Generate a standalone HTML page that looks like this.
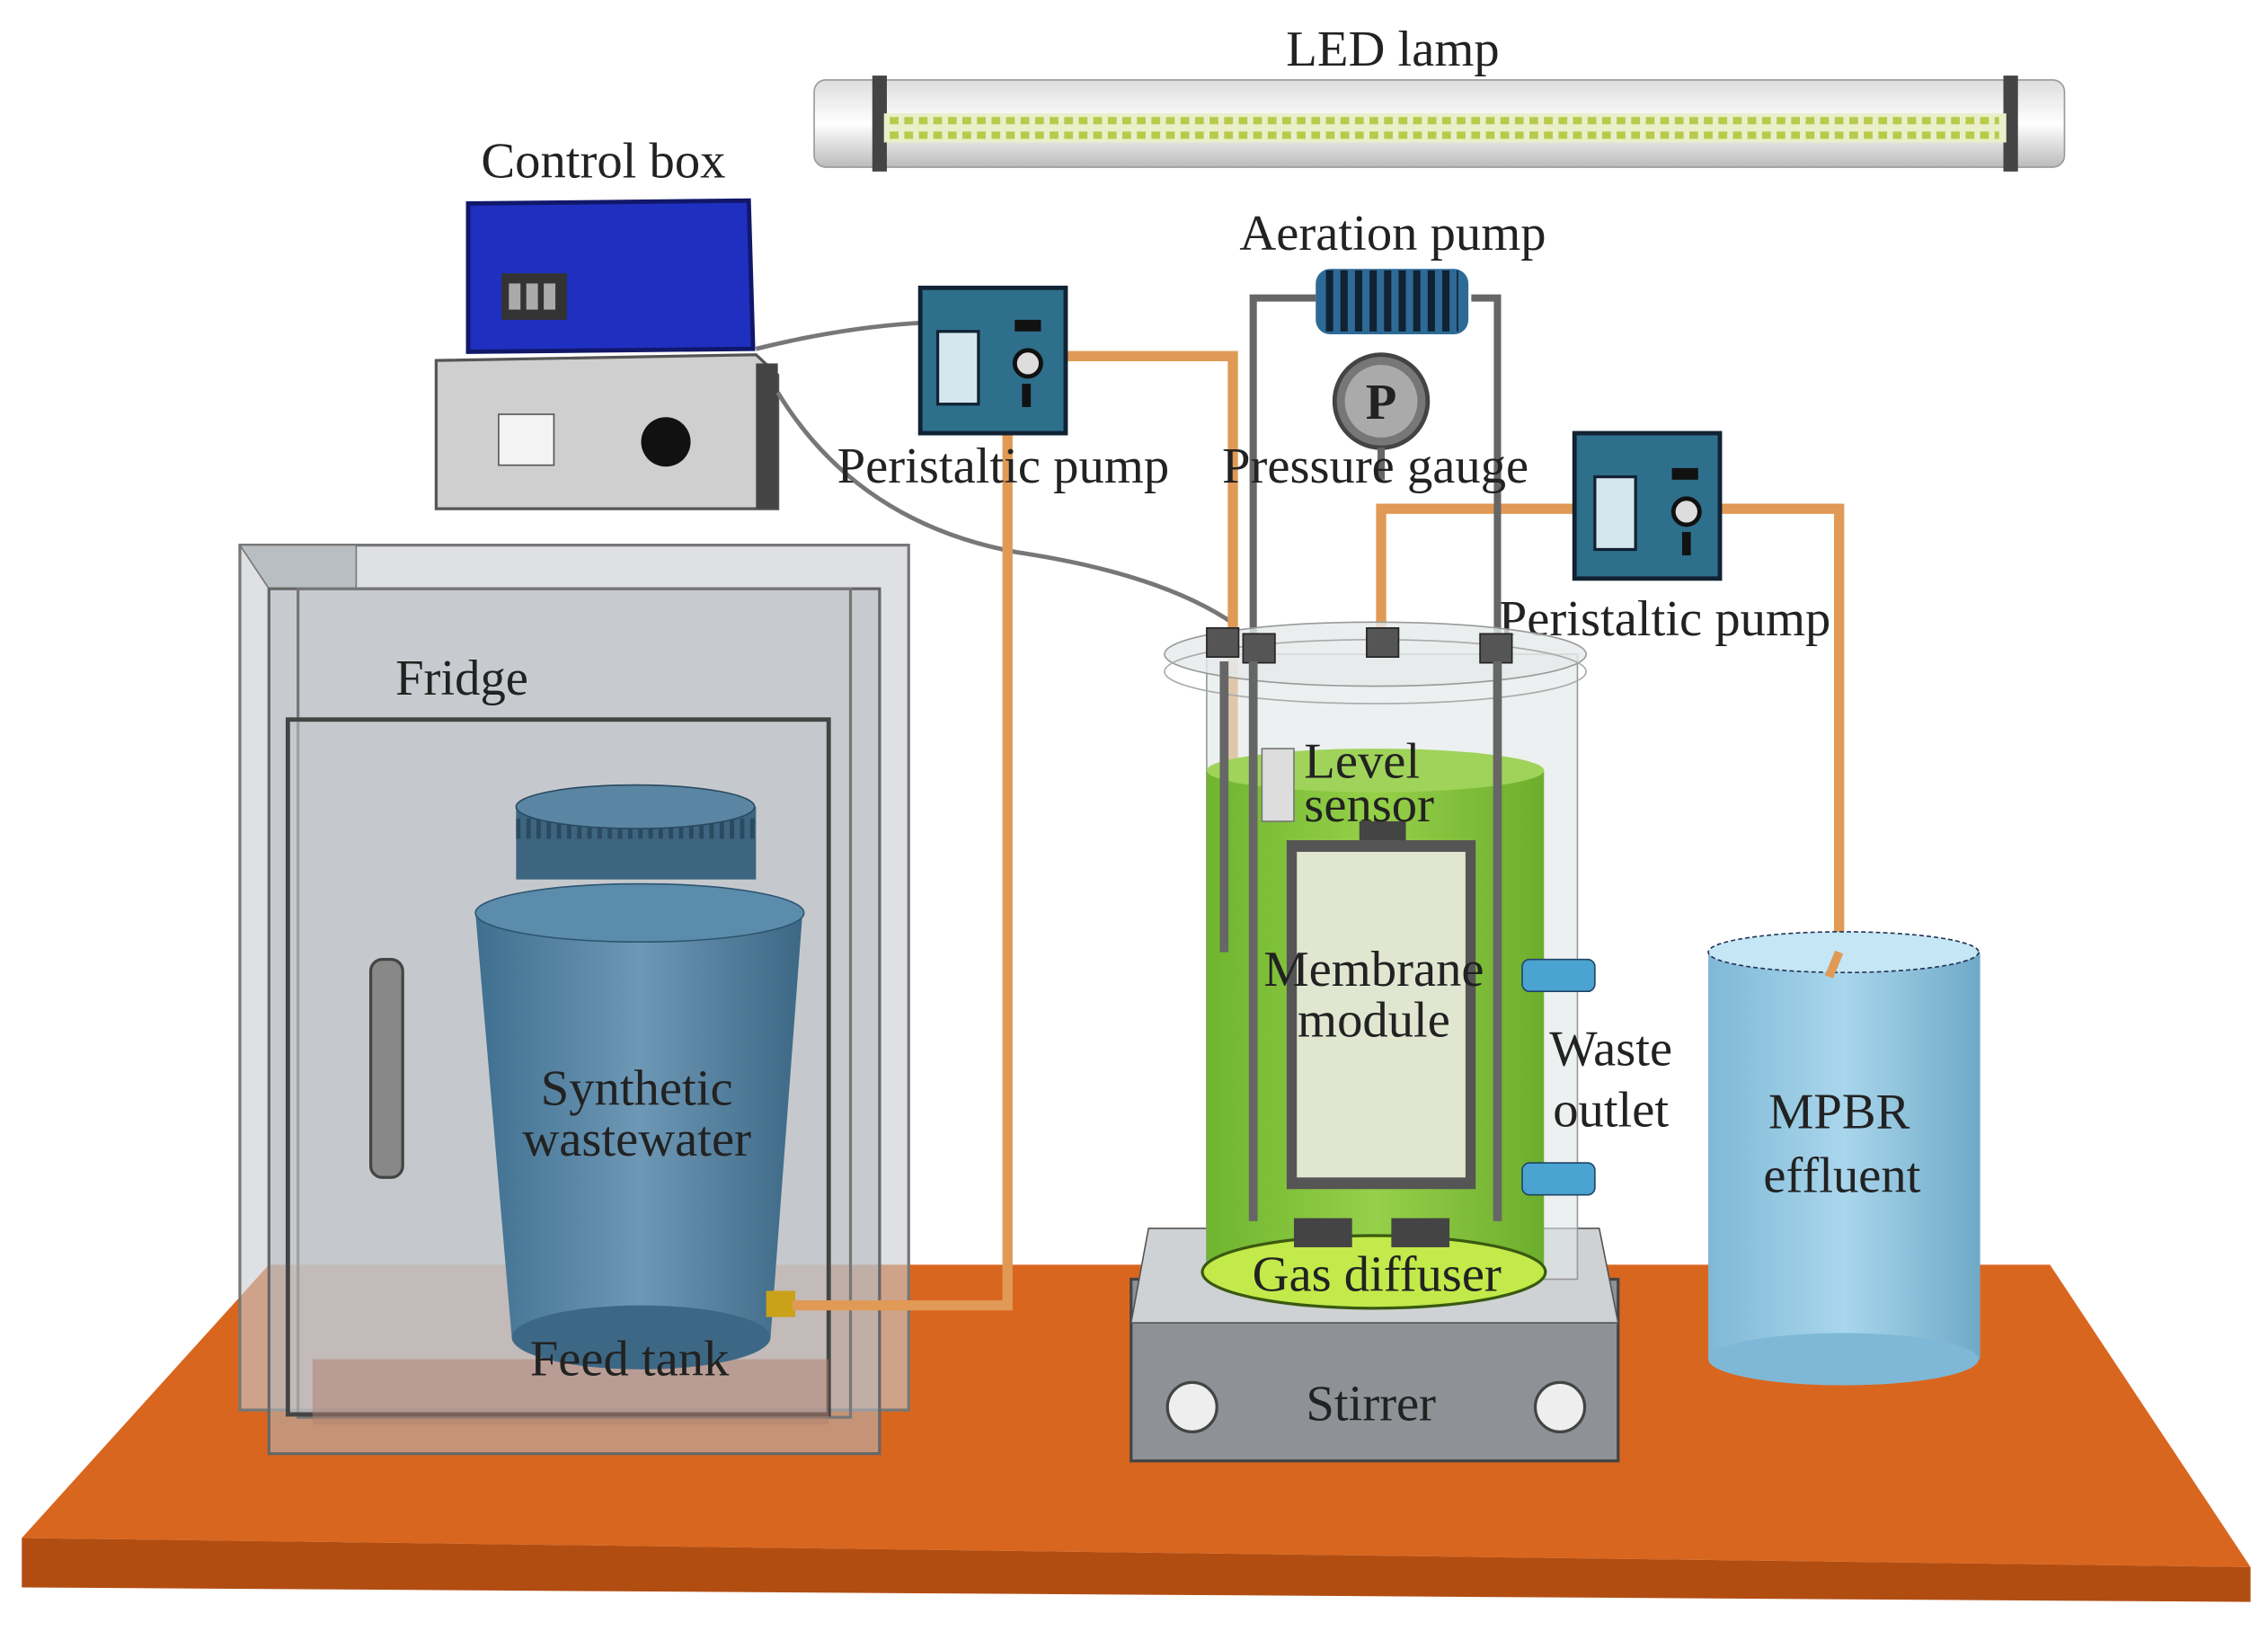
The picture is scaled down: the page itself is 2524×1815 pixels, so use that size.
<!DOCTYPE html>
<html><head><meta charset="utf-8"><style>
html,body{margin:0;padding:0;background:#fff;}
svg{display:block;}
text{font-family:"Liberation Serif",serif;font-size:35px;fill:#222;}
</style></head><body>
<svg width="2524" height="1815" viewBox="0 0 1560 1122" preserveAspectRatio="none" xmlns="http://www.w3.org/2000/svg">
<defs>
<linearGradient id="led" x1="0" y1="0" x2="0" y2="1"><stop offset="0" stop-color="#ddd"/><stop offset=".5" stop-color="#fff"/><stop offset="1" stop-color="#bbb"/></linearGradient>
<linearGradient id="tank" x1="0" y1="0" x2="1" y2="0"><stop offset="0" stop-color="#3f6f8f"/><stop offset=".5" stop-color="#6d98b6"/><stop offset="1" stop-color="#3d6885"/></linearGradient>
<linearGradient id="eff" x1="0" y1="0" x2="1" y2="0"><stop offset="0" stop-color="#7fb8d6"/><stop offset=".5" stop-color="#a9d6ec"/><stop offset="1" stop-color="#6fa9c8"/></linearGradient>
<linearGradient id="grn" x1="0" y1="0" x2="1" y2="0"><stop offset="0" stop-color="#6fb52e"/><stop offset=".5" stop-color="#96d04a"/><stop offset="1" stop-color="#6cae2c"/></linearGradient>
</defs>
<rect width="1560" height="1122" fill="#fff"/>
<polygon points="185,870 1410,870 1548,1078 15,1058" fill="#d9661e"/>
<polygon points="15,1058 1548,1078 1548,1102 15,1092" fill="#b24d12"/>
<rect x="560" y="55" width="860" height="60" rx="8" fill="url(#led)" stroke="#999"/>
<rect x="600" y="52" width="10" height="66" fill="#444"/>
<rect x="1378" y="52" width="10" height="66" fill="#444"/>
<rect x="608" y="78" width="772" height="20" fill="#e9efc8"/>
<line x1="612" y1="83" x2="1375" y2="83" stroke="#b9c94a" stroke-width="5" stroke-dasharray="6,4"/>
<line x1="612" y1="93" x2="1375" y2="93" stroke="#b9c94a" stroke-width="5" stroke-dasharray="6,4"/>
<text x="958" y="45" text-anchor="middle">LED lamp</text>
<text x="415" y="122" text-anchor="middle">Control box</text>
<polygon points="322,140 515,138 518,240 322,242" fill="#1f2fc0" stroke="#11186a" stroke-width="3"/>
<rect x="345" y="188" width="45" height="32" fill="#333"/>
<rect x="350" y="195" width="8" height="18" fill="#aaa"/><rect x="362" y="195" width="8" height="18" fill="#aaa"/><rect x="374" y="195" width="8" height="18" fill="#aaa"/>
<polygon points="300,248 520,244 535,258 535,350 300,350" fill="#cfcfcf" stroke="#555" stroke-width="2"/>
<rect x="520" y="250" width="15" height="100" fill="#444"/>
<rect x="343" y="285" width="38" height="35" fill="#f3f3f3" stroke="#555"/>
<circle cx="458" cy="304" r="17" fill="#111"/>
<path d="M520,240 Q580,225 635,222" stroke="#777" stroke-width="3" fill="none"/>
<path d="M535,270 Q590,360 700,380 Q800,395 850,430" stroke="#777" stroke-width="3" fill="none"/>
<rect x="165" y="375" width="460" height="595" fill="#c8ccd0" fill-opacity=".6" stroke="#777" stroke-width="2"/>
<polygon points="165,375 245,375 245,405 185,405" fill="#b9bec2" stroke="#777"/>
<rect x="185" y="405" width="420" height="595" fill="#b5babf" fill-opacity=".55" stroke="#666" stroke-width="2"/>
<rect x="205" y="405" width="380" height="570" fill="none" stroke="#777" stroke-width="2"/>
<rect x="198" y="495" width="372" height="478" fill="#c3c7cb" fill-opacity=".5" stroke="#444" stroke-width="3"/>
<rect x="215" y="935" width="355" height="45" fill="#b08070" fill-opacity=".5"/>
<rect x="255" y="660" width="22" height="150" rx="8" fill="#888" stroke="#444" stroke-width="2"/>
<text x="272" y="478">Fridge</text>
<polygon points="327,628 552,628 530,920 352,920" fill="url(#tank)"/>
<ellipse cx="441" cy="920" rx="89" ry="22" fill="#3d6885"/>
<ellipse cx="440" cy="628" rx="113" ry="20" fill="#5c8cab" stroke="#2e5570"/>
<rect x="355" y="555" width="165" height="50" fill="#3e6580"/>
<line x1="355" y1="570" x2="520" y2="570" stroke="#2a4a60" stroke-width="14" stroke-dasharray="3,4"/>
<ellipse cx="437" cy="555" rx="82" ry="15" fill="#5a86a4" stroke="#2a4a60"/>
<text x="438" y="760" text-anchor="middle">Synthetic</text>
<text x="438" y="795" text-anchor="middle">wastewater</text>
<text x="433" y="946" text-anchor="middle">Feed tank</text>
<rect x="527" y="888" width="20" height="18" fill="#c9a21a"/>
<g stroke="#e09a55" stroke-width="7" fill="none">
<path d="M545,898 L693,898 L693,298"/>
<path d="M733,245 L848,245 L848,655"/>
<path d="M950,450 L950,350 L1083,350"/>
<path d="M1183,350 L1265,350 L1265,660"/>
</g>
<g>
<rect x="633" y="198" width="100" height="100" fill="#2e6f8c" stroke="#123" stroke-width="3"/>
<rect x="645" y="228" width="28" height="50" fill="#d5e6ee" stroke="#123" stroke-width="2"/>
<circle cx="707" cy="250" r="9" fill="#ddd" stroke="#111" stroke-width="3"/>
<rect x="698" y="220" width="18" height="8" fill="#111"/>
<rect x="703" y="264" width="6" height="16" fill="#111"/>
</g>
<g>
<rect x="1083" y="298" width="100" height="100" fill="#2e6f8c" stroke="#123" stroke-width="3"/>
<rect x="1097" y="328" width="28" height="50" fill="#d5e6ee" stroke="#123" stroke-width="2"/>
<circle cx="1160" cy="352" r="9" fill="#ddd" stroke="#111" stroke-width="3"/>
<rect x="1150" y="322" width="18" height="8" fill="#111"/>
<rect x="1157" y="366" width="6" height="16" fill="#111"/>
</g>
<text x="690" y="332" text-anchor="middle">Peristaltic pump</text>
<text x="1145" y="437" text-anchor="middle">Peristaltic pump</text>
<text x="958" y="172" text-anchor="middle">Aeration pump</text>
<path d="M862,440 L862,205 L905,205 M1012,205 L1030,205 L1030,440" stroke="#666" stroke-width="5" fill="none"/>
<rect x="905" y="185" width="105" height="45" rx="10" fill="#2e6a96"/>
<line x1="912" y1="207" x2="1003" y2="207" stroke="#123" stroke-width="42" stroke-dasharray="5,5"/>
<circle cx="950" cy="276" r="32" fill="#777" stroke="#444" stroke-width="3"/>
<circle cx="950" cy="276" r="25" fill="#aaa"/>
<text x="950" y="288" text-anchor="middle" style="font-weight:bold">P</text>
<line x1="950" y1="308" x2="950" y2="330" stroke="#666" stroke-width="5"/>
<text x="946" y="332" text-anchor="middle">Pressure gauge</text>
<rect x="778" y="880" width="335" height="125" fill="#8e9196" stroke="#444" stroke-width="2"/>
<polygon points="790,845 1100,845 1113,910 778,910" fill="#cfd2d5" stroke="#555"/>
<circle cx="820" cy="968" r="17" fill="#eee" stroke="#444" stroke-width="2"/>
<circle cx="1073" cy="968" r="17" fill="#eee" stroke="#444" stroke-width="2"/>
<text x="943" y="977" text-anchor="middle">Stirrer</text>
<rect x="830" y="450" width="255" height="430" fill="#dfe6e6" fill-opacity=".6" stroke="#999"/>
<rect x="830" y="530" width="232" height="350" fill="url(#grn)"/>
<ellipse cx="946" cy="530" rx="116" ry="15" fill="#9fd35a"/>
<ellipse cx="945" cy="875" rx="118" ry="25" fill="#c2ea4a" stroke="#3a5a10" stroke-width="2"/>
<text x="947" y="888" text-anchor="middle">Gas diffuser</text>
<ellipse cx="946" cy="450" rx="145" ry="22" fill="#e6eaea" fill-opacity=".8" stroke="#999"/>
<ellipse cx="946" cy="462" rx="145" ry="22" fill="none" stroke="#aaa"/>
<g fill="#555" stroke="#222">
<rect x="830" y="432" width="22" height="20"/><rect x="855" y="436" width="22" height="20"/>
<rect x="940" y="432" width="22" height="20"/><rect x="1018" y="436" width="22" height="20"/>
</g>
<g stroke="#666" stroke-width="6" fill="none">
<path d="M862,455 L862,840"/><path d="M1030,455 L1030,840"/>
<path d="M842,455 L842,655"/>
</g>
<rect x="868" y="515" width="22" height="50" fill="#ddd" stroke="#777"/>
<rect x="935" y="565" width="32" height="15" fill="#444"/>
<rect x="885" y="578" width="130" height="240" fill="#555"/>
<rect x="892" y="586" width="116" height="224" fill="#e0e6d0"/>
<rect x="890" y="838" width="40" height="20" fill="#444"/><rect x="957" y="838" width="40" height="20" fill="#444"/>
<text x="897" y="535">Level</text>
<text x="897" y="565">sensor</text>
<text x="945" y="678" text-anchor="middle">Membrane</text>
<text x="945" y="713" text-anchor="middle">module</text>
<rect x="1047" y="660" width="50" height="22" rx="5" fill="#4aa3d0" stroke="#246"/>
<rect x="1047" y="800" width="50" height="22" rx="5" fill="#4aa3d0" stroke="#246"/>
<text x="1108" y="733" text-anchor="middle">Waste</text>
<text x="1108" y="775" text-anchor="middle">outlet</text>
<rect x="1175" y="655" width="187" height="280" fill="url(#eff)"/>
<ellipse cx="1268" cy="935" rx="93" ry="18" fill="#7fb8d6"/>
<ellipse cx="1268" cy="655" rx="93" ry="14" fill="#c5e6f4" stroke="#235" stroke-dasharray="3,2"/>
<line x1="1265" y1="655" x2="1258" y2="672" stroke="#e09a55" stroke-width="6"/>
<text x="1265" y="776" text-anchor="middle">MPBR</text>
<text x="1267" y="820" text-anchor="middle">effluent</text>
</svg>
</body></html>
